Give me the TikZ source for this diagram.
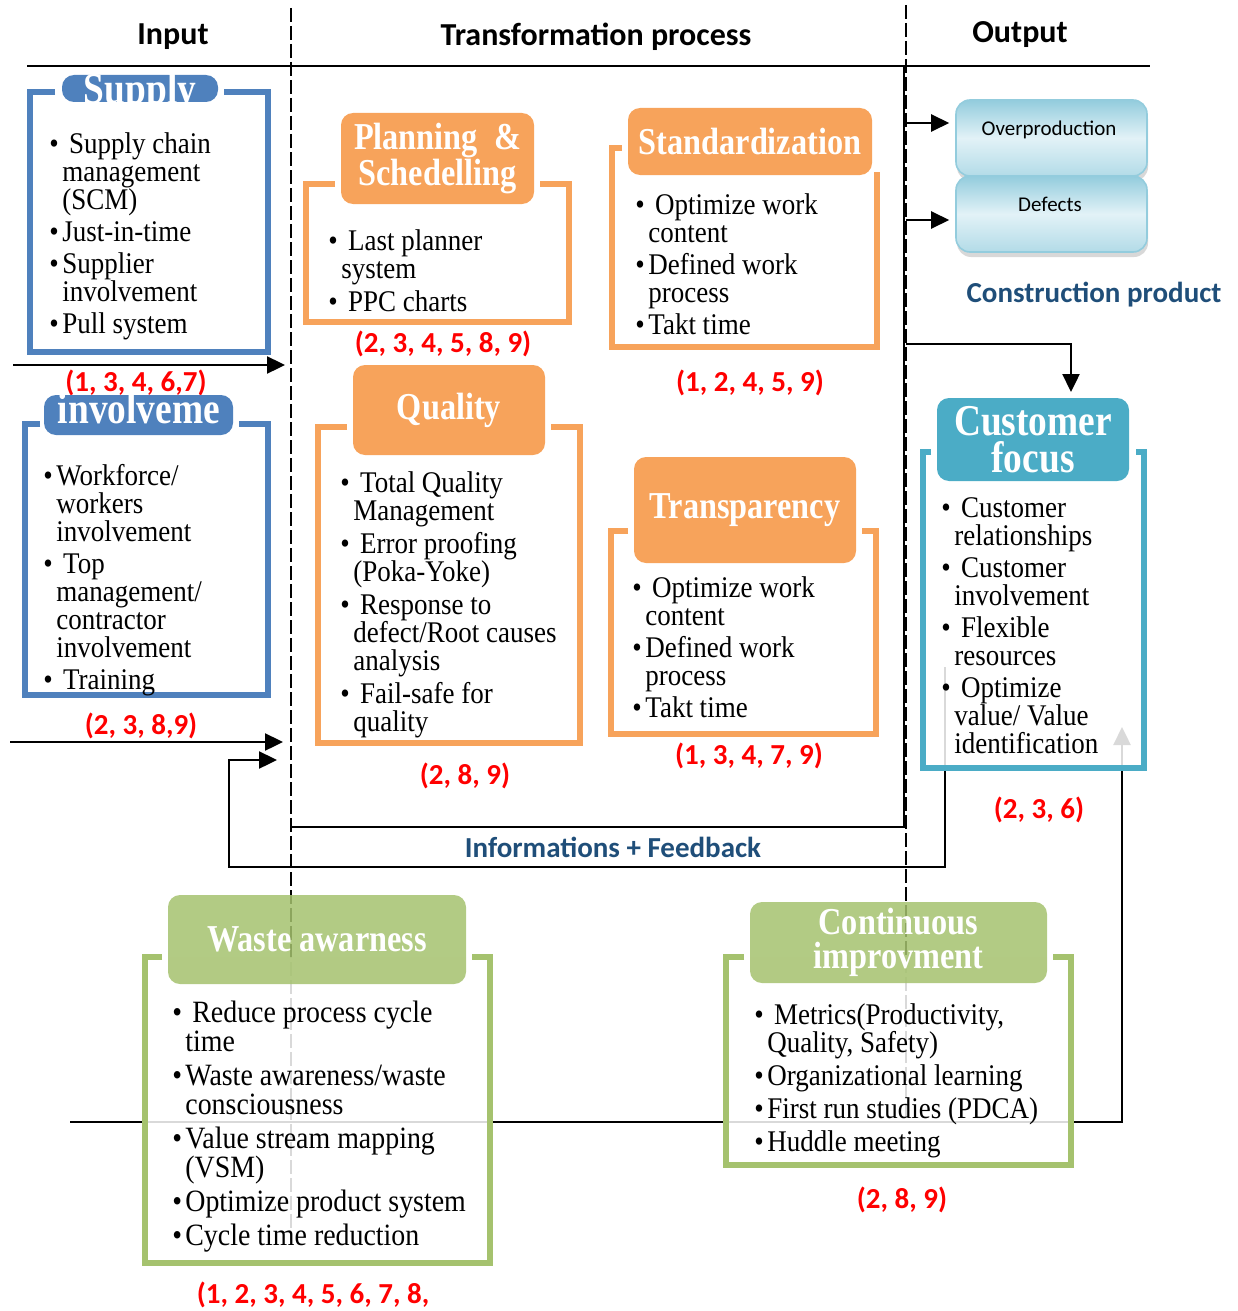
\documentclass[tikz,border=0pt]{standalone}
\usepackage{fontspec}
\setmainfont{Liberation Serif}[FakeStretch=0.85]
\newfontfamily\bodyfont{Liberation Serif}[FakeStretch=0.9]
\newfontfamily\carlito{Carlito}
\usetikzlibrary{arrows.meta,shadows}

\definecolor{inblue}{HTML}{4F81BD}
\definecolor{procorange}{HTML}{F7A35B}
\definecolor{custteal}{HTML}{4BACC6}
\definecolor{wastegreen}{HTML}{A5C26E}
\definecolor{navytext}{HTML}{1F4E79}
\definecolor{outedge}{HTML}{93CCDD}
\definecolor{outmid}{HTML}{E2F2F7}

% bullet and continuation indent for the lists
\newcommand{\bu}{\makebox[6.5pt][l]{\textbullet}}
\newcommand{\ct}{\hspace*{6.5pt}}

\tikzset{
  head/.style={font=\carlito\bfseries\fontsize{16}{16}\selectfont},
  refs/.style={text=red, font=\carlito\bfseries\fontsize{14.5}{14.5}\selectfont},
  note/.style={text=navytext, font=\carlito\bfseries\fontsize{14.5}{14.5}\selectfont},
  frame/.style={draw=#1, line width=2.8pt},
  tab/.style={fill=#1, rounded corners=6pt, inner sep=0pt, text=white, align=center,
    font=\bfseries\fontsize{19}{17}\selectfont},
  bigtab/.style={font=\bfseries\fontsize{22}{18.5}\selectfont},
  items/.style={anchor=north west, inner sep=0pt, align=left,
    font=\bodyfont\fontsize{15}{14}\selectfont},
  arr/.style={line width=1.2pt, -{Triangle[length=9pt,width=8.5pt]}},
  link/.style={line width=1.2pt},
  divider/.style={line width=1.2pt, dash pattern=on 7pt off 2pt},
  outbox/.style={rounded corners=7pt, draw=outedge, line width=0.8pt,
    top color=outedge, bottom color=outedge!60!outmid, middle color=outmid,
    minimum width=95.5pt, minimum height=38pt, inner sep=0pt,
    drop shadow={shadow xshift=0.5pt, shadow yshift=-2.5pt, fill=gray!60}},
  outtext/.style={font=\carlito\fontsize{10.5}{10.5}\selectfont, inner sep=0pt},
  veil/.style={fill=white, fill opacity=0.85},
}

\begin{document}
\begin{tikzpicture}[x=0.5pt,y=-0.5pt]
\useasboundingbox (0,0) rectangle (1237,1311);

% column heads
\node[head] (inhead) at (173,37) {Input};
\node[head] (prochead) at (596,37) {Transformation process};
\node[head] (outhead) at (1020,35) {Output};
\draw[line width=1pt] (27,66) -- (1150,66);

% dividers and the process box
\draw[divider] (291,8) -- (291,1240);
\draw[divider] (906,5) -- (906,1120);
\draw[link] (291,827) -| (904,66);

% loops
\coordinate (loopstart) at (70,1122);
\coordinate (loopend) at (1122,727);
\draw[arr] (loopstart) -| (loopend);
\coordinate (fbstart) at (945,667);
\coordinate (fbcorner) at (229,867);
\coordinate (fbend) at (277,760);
\draw[arr] (fbstart) |- (fbcorner) |- (fbend);
\node[note] (fbtext) at (613,847) {Informations + Feedback};

% inputs
\coordinate (in1) at (13,365);
\coordinate (in1end) at (291,365);
\coordinate (in2) at (10,742);
\coordinate (in2end) at (291,742);
\draw[arr, shorten >=3pt] (in1) -- (in1end);
\draw[arr, shorten >=4pt] (in2) -- (in2end);

% outputs
\node[outbox] (overprod) at (1051.5,138) {};
\node[outbox] (defects) at (1051.5,214) {};
\node[outtext] (overprodtext) at (1049,130) {Overproduction};
\node[outtext] (defectstext) at (1050,204) {Defects};
\node[note] (product) at (1094,295) {Construction product};
\coordinate (out1) at (906,123);
\coordinate (out2) at (906,220);
\draw[arr, shorten >=3pt] (out1) -- (out1 -| overprod.west);
\draw[arr, shorten >=3pt] (out2) -- (out2 -| defects.west);
\coordinate (out3) at (906,344);
\coordinate (custin) at (1071,392);
\draw[arr] (out3) -| (custin);

% Supply
\draw[frame=inblue] (55,92) -| (30,352) -| (268,92) -- (224,92);
\node[tab=inblue, minimum width=78pt, minimum height=13.5pt] (supplytab) at (140,88.5) {};
\begin{scope}
\clip (62,55) rectangle (218,102);
\node[tab=inblue, bigtab, fill=none, anchor=base] (supplytitle) at (140,104) {Supply};
\end{scope}
\node[items] (supplylist) at (49,132) {\bu\ Supply chain\\ \ct management\\ \ct (SCM)\\[2pt]
  \bu Just-in-time\\[2pt] \bu Supplier\\ \ct involvement\\[2pt] \bu Pull system};
\node[refs] (supplyrefs) at (136,383) {(1, 3, 4, 6,7)};

% Involvement
\draw[frame=inblue] (40,424) -| (25,695) -| (268,424) -- (239,424);
\node[tab=inblue, minimum width=94.5pt, minimum height=20pt] (invtab) at (138.5,415) {};
\node[tab=inblue, bigtab, fill=none, anchor=base] (invtitle) at (139,423) {involveme};
\node[items] (invlist) at (43,464) {\bu Workforce/\\ \ct workers\\ \ct involvement\\[2pt]
  \bu\ Top\\ \ct management/\\ \ct contractor\\ \ct involvement\\[2pt] \bu\ Training};
\node[refs] (invrefs) at (141,726) {(2, 3, 8,9)};

% Planning & Schedelling
\draw[frame=procorange] (335,184) -| (306,322) -| (569,184) -- (540,184);
\node[tab=procorange, minimum width=96.5pt, minimum height=45.5pt] (plantab) at (437.5,158.5)
  {Planning~~\&\\Schedelling};
\node[items] (planlist) at (328,229) {\bu\ Last planner\\ \ct system\\[2.5pt] \bu\ PPC charts};
\node[refs] (planrefs) at (443,344) {(2, 3, 4, 5, 8, 9)};

% Standardization
\draw[frame=procorange] (622,148) -| (612,347) -| (877,172);
\node[tab=procorange, minimum width=122pt, minimum height=33.5pt] (stdtab) at (750,141.5)
  {Standardization};
\node[items] (stdlist) at (635,193) {\bu\ Optimize work\\ \ct content\\[2pt]
  \bu Defined work\\ \ct process\\[2pt] \bu Takt time};
\node[refs] (stdrefs) at (750,383) {(1, 2, 4, 5, 9)};

% Quality
\draw[frame=procorange] (347,427) -| (318,743) -| (580,427) -- (551,427);
\node[tab=procorange, minimum width=96pt, minimum height=45pt] (qualtab) at (449,410) {Quality};
\node[items] (quallist) at (340,471) {\bu\ Total Quality\\ \ct Management\\[2.5pt]
  \bu\ Error proofing\\ \ct (Poka-Yoke)\\[2.5pt] \bu\ Response to\\ \ct defect/Root causes\\
  \ct analysis\\[2.5pt] \bu\ Fail-safe for\\ \ct quality};
\node[refs] (qualrefs) at (465,776) {(2, 8, 9)};

% Transparency
\draw[frame=procorange] (628,531) -| (611,734) -| (876,531) -- (862,531);
\node[tab=procorange, minimum width=111pt, minimum height=53pt] (transtab) at (745,510)
  {Transparency};
\node[items] (translist) at (632,576) {\bu\ Optimize work\\ \ct content\\[2pt]
  \bu Defined work\\ \ct process\\[2pt] \bu Takt time};
\node[refs] (transrefs) at (749,756) {(1, 3, 4, 7, 9)};

% Customer focus
\fill[veil] (923,452) rectangle (1144,768);
\draw[frame=custteal] (931,452) -| (923,768) -| (1144,452) -- (1136,452);
\node[tab=custteal, bigtab, minimum width=96pt, minimum height=41.5pt] (custtab) at (1033,439.5)
  {Customer\\focus};
\node[items] (custlist) at (941,497) {\bu\ Customer\\ \ct relationships\\[2pt]
  \bu\ Customer\\ \ct involvement\\[2pt] \bu\ Flexible\\ \ct resources\\[2pt]
  \bu\ Optimize\\ \ct value/ Value\\ \ct identification};
\node[refs] (custrefs) at (1039,810) {(2, 3, 6)};

% Waste awarness
\fill[veil] (145,957) rectangle (490,1263);
\draw[frame=wastegreen] (162,957) -| (145,1263) -| (490,957) -- (472,957);
\node[tab=wastegreen, fill opacity=0.85, text opacity=1, minimum width=149pt, minimum height=44.5pt]
  (wastetab) at (317,939.5) {Waste awarness};
\node[items, font=\bodyfont\fontsize{15.5}{14.5}\selectfont] (wastelist) at (172,1001)
  {\bu\ Reduce process cycle\\ \ct time\\[2.5pt]
  \bu Waste awareness/waste\\ \ct consciousness\\[2.5pt] \bu Value stream mapping\\ \ct (VSM)\\[2.5pt]
  \bu Optimize product system\\[2.5pt] \bu Cycle time reduction};
\node[refs] (wasterefs) at (313,1295) {(1, 2, 3, 4, 5, 6, 7, 8,};

% Continuous improvment
\fill[veil] (726,957) rectangle (1071,1165);
\draw[frame=wastegreen] (744,957) -| (726,1165) -| (1071,957) -- (1053,957);
\node[tab=wastegreen, fill opacity=0.85, text opacity=1, minimum width=148.5pt, minimum height=40.5pt]
  (conttab) at (898.5,942.5) {Continuous\\improvment};
\node[items] (contlist) at (754,1003) {\bu\ Metrics(Productivity,\\ \ct Quality, Safety)\\[2.5pt]
  \bu Organizational learning\\[2.5pt] \bu First run studies (PDCA)\\[2.5pt] \bu Huddle meeting};
\node[refs] (contrefs) at (902,1200) {(2, 8, 9)};
\end{tikzpicture}
\end{document}
